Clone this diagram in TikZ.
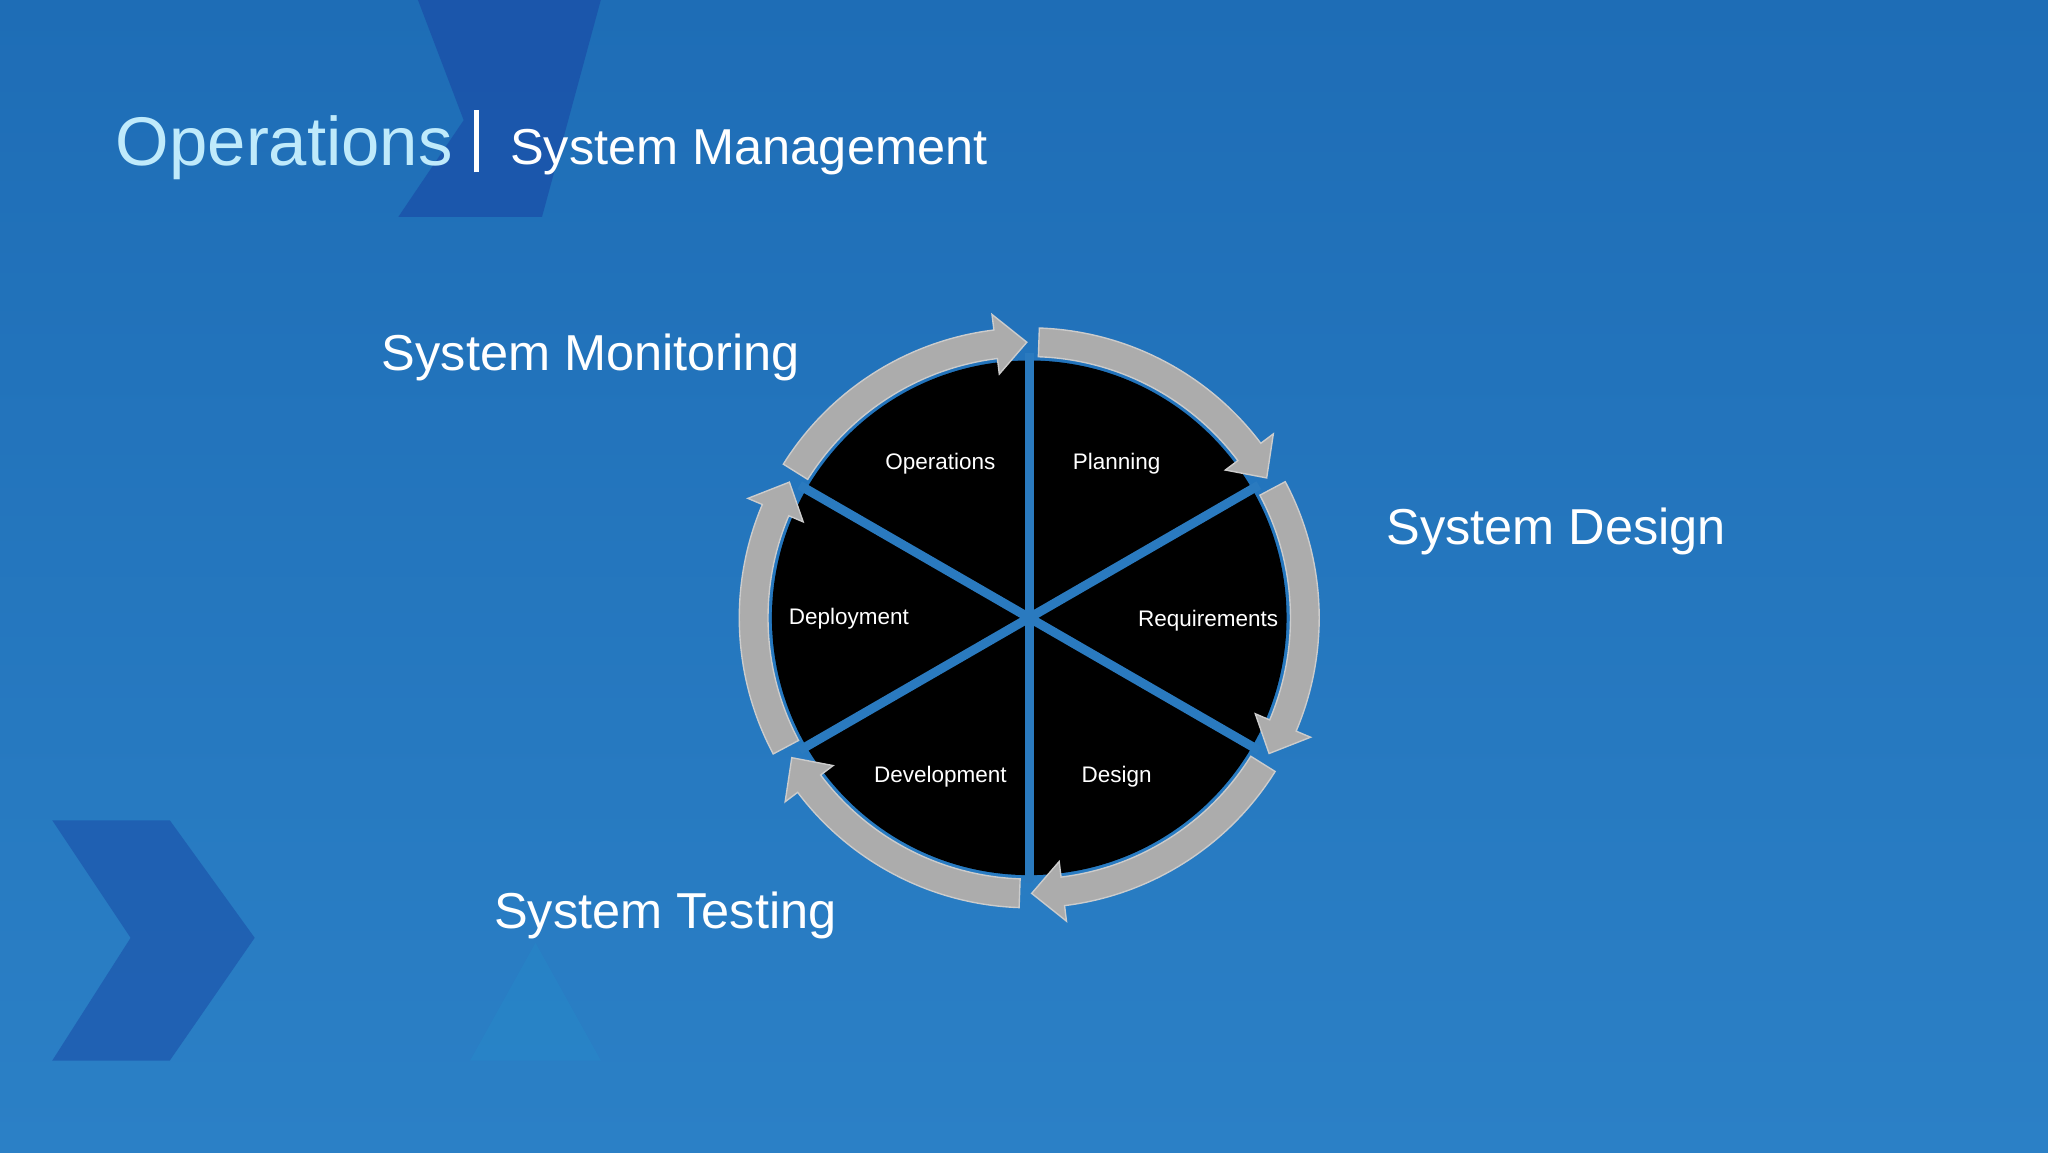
\documentclass[tikz,border=0pt]{standalone}
\usepackage{fontspec}
\usetikzlibrary{calc}
\setmainfont{Liberation Sans}
\begin{document}
\begin{tikzpicture}[x=1cm,y=1cm,
  ring/.style={fill=gray!65!white,draw=gray!40!white,line width=0.3pt},
  lbl/.style={text=white,font=\fontsize{4.9pt}{5pt}\selectfont},
  big/.style={text=white,font=\fontsize{11pt}{12pt}\selectfont,anchor=west}]
\definecolor{bgA}{HTML}{1E6DB6}
\definecolor{bgB}{HTML}{2B80C6}
\definecolor{chev}{HTML}{1A4FA8}
\definecolor{gap}{HTML}{2A7ABF}
\shade[top color=bgA,bottom color=bgB] (0,0) rectangle (15.68,8.82);
\useasboundingbox (0,0) rectangle (15.68,8.82);
% background chevrons
\fill[chev,opacity=0.75] (3.2,8.82) -- (4.6,8.82) -- (4.15,7.16) -- (3.05,7.16) -- (3.55,7.9) -- cycle;
\fill[chev,opacity=0.6] (0.4,2.54) -- (1.3,2.54) -- (1.95,1.64) -- (1.3,0.70) -- (0.4,0.70) -- (1.0,1.64) -- cycle;
\fill[bgB!80!cyan,opacity=0.2] (3.6,0.7) -- (4.6,0.7) -- (4.1,1.6) -- cycle;
% title
\node[anchor=base west,text=cyan!25!white,font=\fontsize{15pt}{16pt}\selectfont,inner sep=0] (t1) at (0.88,7.55) {Operations};
\node[anchor=base west,text=white,font=\fontsize{11pt}{12pt}\selectfont,inner sep=0] (t2) at (3.9,7.56) {System Management};
\draw[white,line width=1.2pt] (3.65,7.5) -- (3.65,7.98);
% wheel
\coordinate (c) at (7.88,4.09);
\fill[black] (c) circle (1.97);
\foreach \a in {90,30,-30}{
  \draw[gap,line width=2pt] ($(c)+(\a:2.03)$) -- ($(c)+(\a+180:2.03)$);
}
\foreach \k in {0,...,5}{
  \pgfmathsetmacro\s{148-60*\k}
  \pgfmathsetmacro\b{97-60*\k}
  \pgfmathsetmacro\e{90.5-60*\k}
  \filldraw[ring] ($(c)+(\s:2.22)$) arc[start angle=\s,end angle=\b,radius=2.22]
    -- ($(c)+(\b:2.34)$) -- ($(c)+(\e:2.11)$) -- ($(c)+(\b:1.88)$) -- ($(c)+(\b:2.0)$)
    arc[start angle=\b,end angle=\s,radius=2.0] -- cycle;
}
\node[lbl] (op) at (7.20,5.27) {Operations};
\node[lbl] (pl) at (8.55,5.27) {Planning};
\node[lbl] (rq) at (9.25,4.07) {Requirements};
\node[lbl] (de) at (8.55,2.87) {Design};
\node[lbl] (dv) at (7.20,2.87) {Development};
\node[lbl] (dp) at (6.50,4.08) {Deployment};
\node[big] (sm) at (2.80,6.08) {System Monitoring};
\node[big] (sd) at (10.49,4.75) {System Design};
\node[big] (st) at (3.66,1.81) {System Testing};
\end{tikzpicture}
\end{document}
